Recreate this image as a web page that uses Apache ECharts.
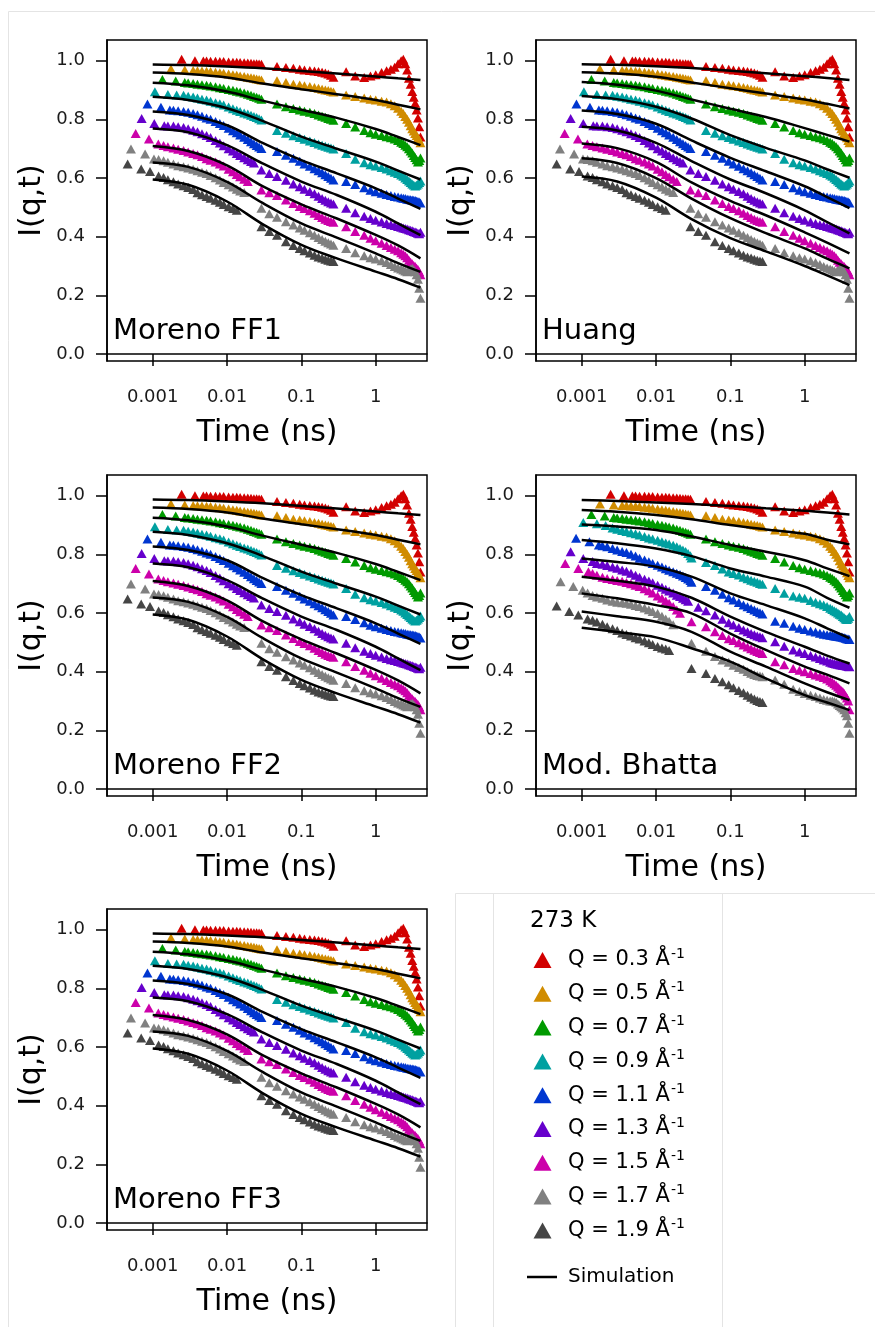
<!DOCTYPE html>
<html><head><meta charset="utf-8">
<script src="https://cdn.jsdelivr.net/npm/echarts@6/dist/echarts.min.js"></script>
<style>html,body{margin:0;padding:0;background:#fff}#c{width:875px;height:1327px}</style>
</head><body><div id="c"></div><script>
const _ = null;
const FONT = 'DejaVu Sans';
const qValues = ['0.3','0.5','0.7','0.9','1.1','1.3','1.5','1.7','1.9'];
const qColors = ['#d20000','#d08c00','#009a00','#00a0a0','#0036d0','#6600cc','#cc00aa','#808080','#454545'];
const panelNames = ['Moreno FF1','Huang','Moreno FF2','Mod. Bhatta','Moreno FF3'];
const xTicks = [0.001, 0.01, 0.1, 1];
const yTicks = [0, 0.2, 0.4, 0.6, 0.8, 1.0];

// time grids (ns) of the measured points
const tA = [0.0012,0.0014,0.0016,0.0019,0.0022,0.0026,0.003,0.0035,0.004,0.0046,0.0053,0.006,0.007,0.008,0.009,0.0105,0.012,0.0135,0.015,0.017,0.019,0.021,0.023,0.025,0.027,0.029];
const tB = [0.03,0.037,0.047,0.062,0.078,0.095,0.11,0.13,0.15,0.17,0.19,0.21,0.23,0.25,0.27];
const tC = [0.4,0.53,0.7,0.85,1.0,1.2,1.4,1.6,1.8,2.0,2.2,2.35,2.5,2.65,2.8,2.95,3.1,3.25,3.4,3.55,3.7,3.85,4.0];
const tSim = [0.001,0.003,0.01,0.03,0.1,0.3,1,2,4];

// measured data, shared by Moreno FF1/FF2/FF3 and Huang panels
const earlyCommon = [
  [[0.00245,1.005],[0.0037,1.0],[0.0048,0.999]],
  [[0.00176,0.972],[0.0027,0.968],[0.0035,0.967]],
  [[0.00135,0.936],[0.00204,0.931],[0.0027,0.926]],
  [[0.00107,0.894],[0.0016,0.885],[0.0021,0.883]],
  [[0.00085,0.852],[0.00129,0.841],[0.0017,0.832]],
  [[0.00071,0.803],[0.00105,0.786],[0.00143,0.778]],
  [[0.00059,0.752],[0.00089,0.733],[0.00119,0.716]],
  [[0.00051,0.699],[0.00079,0.682],[0.00104,0.665]],
  [[0.00046,0.648],[0.0007,0.631],[0.00092,0.622]]
];
const segACommon = [
  [_,_,_,_,_,_,_,_,_,_,.999,.998,.998,.997,.997,.996,.995,.995,.994,.993,.992,.991,.990,.990,.989,.988],
  [_,_,_,_,_,_,_,_,.966,.965,.964,.963,.961,.959,.957,.955,.952,.950,.948,.946,.944,.942,.940,.938,.936,.934],
  [_,_,_,_,_,_,.924,.922,.920,.918,.916,.914,.911,.908,.905,.902,.899,.896,.893,.890,.886,.882,.878,.875,.872,.869],
  [_,_,_,_,_,.882,.879,.876,.873,.869,.866,.862,.857,.853,.849,.842,.836,.831,.827,.822,.818,.814,.810,.806,.802,.798],
  [_,_,_,.831,.829,.827,.824,.820,.816,.811,.805,.800,.793,.786,.779,.770,.761,.754,.747,.739,.731,.724,.717,.711,.706,.701],
  [_,_,.777,.777,.775,.772,.768,.763,.758,.751,.745,.738,.728,.719,.710,.700,.692,.684,.677,.669,.662,.656,.651,_,_,.627],
  [_,.711,.707,.702,.698,.694,.689,.684,.679,.673,.666,.661,.655,.648,.641,.630,.621,.612,.604,.596,.588,_,_,_,_,.559],
  [.663,.659,.654,.648,.642,.638,.634,.630,.625,.620,.615,.609,.601,.593,.585,.577,.569,.562,.556,.551,_,_,_,_,_,.497],
  [.607,.602,.594,.587,.580,.574,.568,.561,.550,.543,.537,.531,.524,.517,.510,.502,.496,.490,_,_,_,_,_,_,_,.434]
];
const segBCommon = [
  [_,_,.980,.977,.974,.971,.968,.967,.965,.963,.961,.958,.955,.950,.944],
  [_,_,.932,.926,.920,.917,.915,.912,.909,.906,.903,.900,.898,.896,.893],
  [_,_,.852,.843,.837,.832,.828,.824,.820,.815,.811,.807,.803,.800,.797],
  [_,_,.762,.753,.744,.738,.732,.726,.721,.716,.712,.708,.705,.702,.699],
  [_,_,.690,.678,.667,.657,.648,.640,.632,.625,.618,.611,.605,.599,.593],
  [_,.615,.605,.592,.580,.570,.562,.554,.546,.538,.530,.524,.519,.515,.511],
  [_,.550,.540,.525,.513,.503,.496,.488,.480,.472,.465,.459,.455,.452,.449],
  [_,.478,.466,.451,.440,.430,.422,.413,.405,.397,.390,.384,.379,.375,.371],
  [_,.418,.405,.383,.370,.360,.352,.344,.337,.331,.327,.323,.320,.317,.315]
];
const segCCommon = [
  [.962,.948,.943,.948,.952,.960,.966,.971,.978,.990,1.0,1.005,.990,.968,.940,.920,.895,.875,.855,.832,.805,.775,.740],
  [.883,.878,.873,.869,.866,.862,.859,.853,.846,.838,.828,.820,.810,.800,.790,.778,.768,.760,.752,.745,.737,.728,.720],
  [.786,.774,.762,.754,.749,.745,.741,.737,.733,.728,.722,.718,.712,.707,.700,.692,.685,.677,.670,.662,.655,.660,.668],
  [.684,.664,.652,.645,.641,.636,.631,.625,.620,.615,.610,.606,.600,.595,.590,.585,.580,.576,.573,.575,.580,.585,.590],
  [.588,.578,.567,.558,.553,.548,.544,.540,.537,.535,.533,.531,.530,.528,.527,.526,.525,.524,.523,.521,.520,.518,.515],
  [.497,.482,.470,.462,.456,.450,.445,.441,.438,.435,.432,.430,.428,.426,.424,.422,.420,.418,.416,.414,.412,.410,.415],
  [.434,.418,.405,.395,.386,.378,.370,.363,.357,.352,.345,.340,.335,.328,.320,.313,.308,.302,.298,.292,.288,.280,.270],
  [.360,.345,.335,.328,.324,.318,.312,.305,.298,.293,.290,.286,.283,.280,.285,.290,.292,.286,.280,.270,.255,.224,.190],
  null
];

// measured data of the Mod. Bhatta panel (Q = 0.9 ... 1.9 differ)
const earlyBhatta = [
  [[0.00105,0.909],[0.0016,0.904],[0.0021,0.898]],
  [[0.00084,0.855],[0.00127,0.843],[0.0017,0.832]],
  [[0.00071,0.809],[0.00105,0.786],[0.0014,0.776]],
  [[0.0006,0.769],[0.0009,0.752],[0.00123,0.741]],
  [[0.00052,0.707],[0.00077,0.690],[0.00103,0.678]],
  [[0.00046,0.624],[0.00068,0.605],[0.0009,0.593]]
];
const segABhatta = [
  [_,_,_,_,_,.890,.886,.881,.878,.874,.870,.866,.861,.856,.852,.848,.843,.839,.835,.831,.826,.820,.815,.810,.803,.795],
  [_,_,_,.829,.826,.820,.815,.810,.806,.800,.794,.787,.781,.775,.769,.763,.757,.751,.746,.741,.736,.731,.726,.721,.716,.711],
  [_,_,.769,.766,.762,.757,.753,.747,.742,.736,.729,.722,.715,.709,.703,.695,.688,.681,.675,.668,.661,.656,.650,.645,.640,_],
  [_,.735,.729,.722,.718,.714,.711,.708,.704,.700,.695,.690,.683,.676,.668,.658,.650,.641,.633,.622,.610,.599,_,_,_,_],
  [.668,.660,.655,.650,.644,.640,.637,.635,.633,.630,.626,.622,.617,.611,.605,.598,.589,.580,.572,.560,_,_,_,_,_,_],
  [.580,.575,.569,.562,.553,.546,.540,.532,.527,.522,.516,.511,.505,.499,.493,.486,.481,.477,.472,_,_,_,_,_,_,_]
];
const segBBhatta = [
  [.788,_,.772,.762,.750,.740,.735,.730,.722,.717,.712,.708,.705,.701,.698],
  [.705,_,.690,.678,.664,.652,.644,.636,.627,.621,.615,.610,.605,.601,.597],
  [_,.620,.608,.593,.579,.567,.559,.551,.542,.536,.530,.526,.522,.519,.516],
  [.570,_,.553,.536,.523,.512,.506,.499,.491,.484,.478,.473,.469,.465,.462],
  [.497,_,.470,.452,.440,.432,.422,.414,.408,.401,.395,.390,.387,.385,.383],
  [.411,_,.394,.377,.366,.355,.345,.336,.328,.320,.313,.307,.302,.298,.295]
];
const segCBhatta = [
  [.684,.667,.658,.654,.650,.643,.637,.632,.627,.622,.616,.612,.608,.604,.600,.596,.593,.588,.584,.580,.578,.582,.588],
  [.572,.565,.555,.548,.544,.539,.535,.531,.528,.526,.524,.523,.522,.521,.520,.519,.518,.517,.516,.514,.512,.511,.510],
  [.502,.487,.474,.467,.462,.455,.450,.445,.440,.436,.432,.430,.428,.426,.425,.424,.423,.422,.421,.420,.419,.418,.417],
  [.434,.424,.411,.405,.400,.394,.389,.384,.380,.375,.369,.364,.359,.354,.348,.342,.336,.332,.326,.318,.310,.300,.270],
  [.372,.357,.340,.332,.326,.320,.315,.310,.305,.303,.300,.300,.298,.296,.290,.285,.280,.276,.270,.260,.250,.224,.190],
  null
];

// simulation curves at tSim
const simFF = [
  [.987,.985,.980,.974,.965,.956,.946,.940,.934],
  [.960,.955,.943,.922,.903,.886,.866,.850,.834],
  [.925,.916,.895,.864,.833,.805,.767,.740,.712],
  [.877,.866,.838,.795,.741,.700,.656,.625,.595],
  [.827,.815,.780,.720,.661,.616,.565,.530,.495],
  [.769,.756,.712,.650,.588,.542,.485,.445,.405],
  [.709,.692,.643,.572,.510,.462,.406,.370,.326],
  [.653,.638,.587,.515,.445,.397,.343,.310,.280],
  [.595,.577,.520,.443,.372,.326,.281,.255,.226]
];
const simHuang = [
  [.988,.986,.981,.975,.966,.957,.947,.941,.934],
  [.961,.956,.945,.926,.906,.888,.868,.853,.837],
  [.927,.918,.898,.868,.836,.808,.770,.747,.724],
  [.880,.869,.843,.803,.746,.703,.660,.630,.601],
  [.830,.818,.785,.728,.669,.623,.572,.535,.497],
  [.775,.762,.720,.658,.595,.548,.490,.450,.411],
  [.718,.702,.655,.585,.522,.473,.415,.380,.343],
  [.667,.651,.600,.530,.463,.412,.360,.325,.292],
  [.605,.588,.533,.460,.395,.350,.300,.268,.235]
];
const simBhatta = [
  [.985,.982,.977,.972,.965,.957,.949,.943,.936],
  [.951,.945,.934,.920,.900,.885,.870,.850,.834],
  [.902,.895,.883,.861,.832,.809,.780,.752,.726],
  [.849,.838,.820,.794,.752,.724,.690,.652,.618],
  [.786,.774,.758,.724,.667,.627,.582,.548,.514],
  [.724,.710,.690,.652,.588,.536,.485,.455,.428],
  [.667,.650,.627,.599,.530,.474,.417,.390,.360],
  [.605,.589,.570,.536,.468,.417,.360,.330,.303],
  [.550,.535,.517,.480,.434,.377,.320,.295,.269]
];

function buildExp(early, a, b, c) {
  const pts = early.map(p => [p[0], p[1]]);
  a.forEach((v, i) => { if (v !== null) pts.push([tA[i], v]); });
  b.forEach((v, i) => { if (v !== null) pts.push([tB[i], v]); });
  if (c) c.forEach((v, i) => { if (v !== null) pts.push([tC[i], v]); });
  return pts;
}
const expCommon = qValues.map((q, i) => buildExp(earlyCommon[i], segACommon[i], segBCommon[i], segCCommon[i]));
const expBhatta = qValues.map((q, i) => i < 3 ? expCommon[i]
  : buildExp(earlyBhatta[i-3], segABhatta[i-3], segBBhatta[i-3], segCBhatta[i-3]));
const panelExp = [expCommon, expCommon, expCommon, expBhatta, expCommon];
const panelSim = [simFF, simHuang, simFF, simBhatta, simFF];

const grids = [
  {left:107, top:40, width:320, height:321},
  {left:536, top:40, width:320, height:321},
  {left:107, top:475, width:320, height:321},
  {left:536, top:475, width:320, height:321},
  {left:107, top:909, width:320, height:321}
];
const seriesName = q => 'Q = ' + q + ' Å-1';

const series = [];
grids.forEach((g, p) => {
  qValues.forEach((q, i) => {
    series.push({
      type:'scatter', name: seriesName(q), xAxisIndex:p, yAxisIndex:p,
      symbol:'triangle', symbolSize:[10,9], itemStyle:{color:qColors[i], opacity:1},
      data: panelExp[p][i], silent:true, z:2
    });
  });
  panelSim[p].forEach(vals => {
    series.push({
      type:'line', name:'Simulation', xAxisIndex:p, yAxisIndex:p, smooth:0.35,
      symbol:'none', lineStyle:{color:'#000', width:2.5}, itemStyle:{color:'#000'},
      data: tSim.map((t, k) => [t, vals[k]]), silent:true, z:3
    });
  });
});

const xFmt = v => { const e = Math.round(Math.log10(v)); return e >= 0 ? String(Math.round(v)) : v.toFixed(-e); };

const option = {
  animation:false,
  backgroundColor:'#fff',
  title: panelNames.map((n, i) => ({
    text:n, left:grids[i].left + 6, top:grids[i].top + 277, padding:0,
    textStyle:{fontFamily:FONT, fontSize:29, fontWeight:'normal', color:'#000'}
  })).concat([{
    text:'273 K', left:530, top:910, padding:0,
    textStyle:{fontFamily:FONT, fontSize:23, fontWeight:'normal', color:'#000'}
  }]),
  grid: grids.map(g => Object.assign({}, g, {show:true, borderColor:'#000', borderWidth:1.5, containLabel:false})),
  xAxis: grids.map((g, i) => ({
    type:'log', logBase:10, gridIndex:i, min:0.0002427, max:4.898,
    axisLine:{show:true, lineStyle:{color:'#000', width:1.5}},
    axisTick:{show:true, length:12, customValues:xTicks, lineStyle:{color:'#000', width:1.5}},
    axisLabel:{customValues:xTicks, formatter:xFmt, fontFamily:FONT, fontSize:18, color:'#1a1a1a', margin:27},
    splitLine:{show:false}, minorTick:{show:false},
    name:'Time (ns)', nameLocation:'middle', nameGap:57,
    nameTextStyle:{fontFamily:FONT, fontSize:30, color:'#000'}
  })),
  yAxis: grids.map((g, i) => ({
    type:'value', gridIndex:i, min:-0.0239, max:1.0706,
    axisLine:{show:true, lineStyle:{color:'#000', width:1.5}},
    axisTick:{show:true, length:11, customValues:yTicks, lineStyle:{color:'#000', width:1.5}},
    axisLabel:{customValues:yTicks, formatter:v => v.toFixed(1), fontFamily:FONT, fontSize:18, color:'#1a1a1a', margin:22},
    splitLine:{show:false},
    name:'I(q,t)', nameLocation:'middle', nameRotate:90, nameGap:60,
    nameTextStyle:{fontFamily:FONT, fontSize:30, color:'#000'}
  })),
  legend: [{
    data: qValues.map(seriesName), orient:'vertical', left:533.5, top:947,
    itemWidth:18, itemHeight:16, itemGap:10.3, padding:0, selectedMode:false,
    formatter: name => '{q|' + name.slice(0, -2) + '}{s|-1}',
    textStyle:{fontFamily:FONT, color:'#000', rich:{
      q:{fontFamily:FONT, fontSize:21, lineHeight:26, color:'#000', padding:[0,0,0,11.5]},
      s:{fontFamily:FONT, fontSize:14, lineHeight:26, verticalAlign:'top', color:'#000', padding:[0,0,0,1]}
    }}
  }, {
    data:[{name:'Simulation', icon:'rect'}], orient:'vertical', left:527, top:1266,
    itemWidth:30, itemHeight:2.5, padding:0, selectedMode:false,
    itemStyle:{color:'#000'},
    textStyle:{fontFamily:FONT, fontSize:20, lineHeight:22, color:'#000', padding:[0,0,0,6]}
  }],
  graphic: [
    {type:'line', shape:{x1:8.5, y1:11.5, x2:8.5, y2:1327}, style:{stroke:'#e4e4e4', lineWidth:1}, silent:true},
    {type:'line', shape:{x1:8.5, y1:11.5, x2:875, y2:11.5}, style:{stroke:'#e4e4e4', lineWidth:1}, silent:true},
    {type:'line', shape:{x1:455.5, y1:893.5, x2:875, y2:893.5}, style:{stroke:'#e4e4e4', lineWidth:1}, silent:true},
    {type:'line', shape:{x1:455.5, y1:893.5, x2:455.5, y2:1327}, style:{stroke:'#e4e4e4', lineWidth:1}, silent:true},
    {type:'line', shape:{x1:493.5, y1:893.5, x2:493.5, y2:1327}, style:{stroke:'#e4e4e4', lineWidth:1}, silent:true},
    {type:'line', shape:{x1:722.5, y1:893.5, x2:722.5, y2:1327}, style:{stroke:'#e4e4e4', lineWidth:1}, silent:true}
  ],
  series
};
const chart = echarts.init(document.getElementById('c'), null, {renderer:'canvas'});
chart.setOption(option);
</script></body></html>
